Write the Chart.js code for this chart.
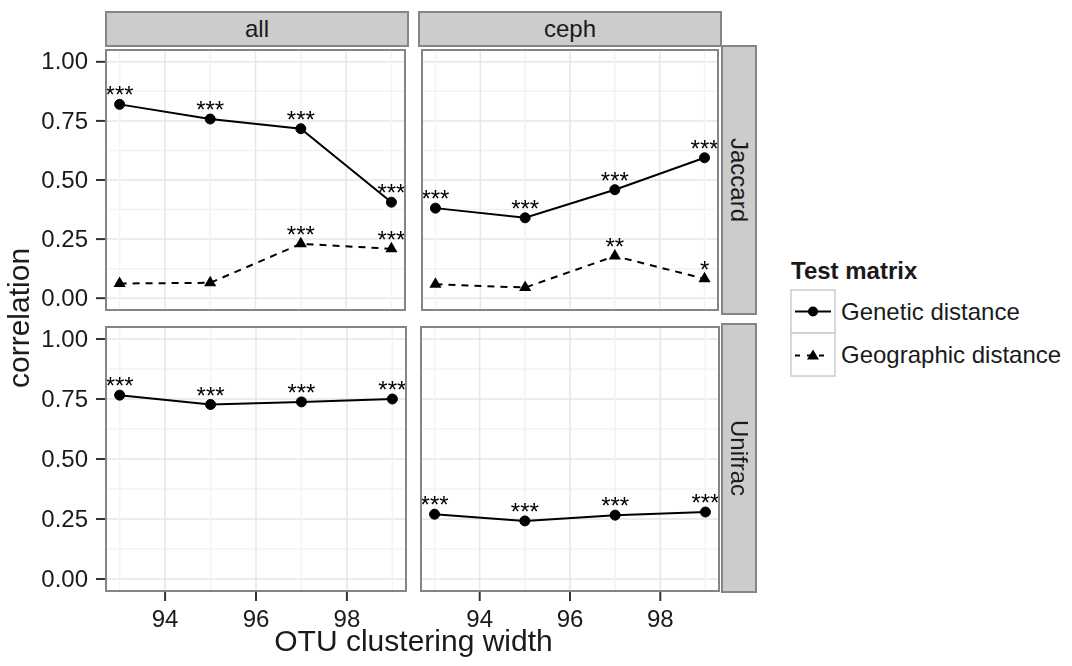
<!DOCTYPE html>
<html>
<head>
<meta charset="utf-8">
<script src="https://cdn.jsdelivr.net/npm/chart.js@4/dist/chart.umd.min.js"></script>
<style>
  body { margin: 0; background: #fff; font-family: "Liberation Sans", Arial, sans-serif; color: #1a1a1a; }
  #wrap { position: relative; width: 1072px; height: 666px; overflow: hidden; }
  canvas { position: absolute; }
  .strip { position: absolute; box-sizing: border-box; background: #cccccc; border: 2px solid #858585;
           font-size: 24px; display: flex; align-items: center; justify-content: center; }
  .vtext { transform: rotate(90deg); white-space: nowrap; }
  .lbl { position: absolute; white-space: nowrap; }
</style>
</head>
<body>
<div id="wrap">
  <canvas id="p1" width="412" height="274" style="left:0;top:43px"></canvas>
  <canvas id="p2" width="310" height="274" style="left:415px;top:43px"></canvas>
  <canvas id="p3" width="412" height="330" style="left:0;top:321px"></canvas>
  <canvas id="p4" width="310" height="330" style="left:415px;top:321px"></canvas>

  <div class="strip" style="left:105px;top:11px;width:304px;height:36px">all</div>
  <div class="strip" style="left:418px;top:11px;width:304px;height:36px">ceph</div>
  <div class="strip" style="left:721px;top:45px;width:36px;height:270px"><span class="vtext">Jaccard</span></div>
  <div class="strip" style="left:721px;top:323px;width:36px;height:270px"><span class="vtext">Unifrac</span></div>

  <div class="lbl" style="left:0;top:318px;width:36px;height:0;font-size:30px;">
    <div style="position:absolute;left:19px;top:0;transform:translate(-50%,-50%) rotate(-90deg);">correlation</div>
  </div>
  <div class="lbl" style="left:106px;width:615px;top:624px;text-align:center;font-size:30px;">OTU clustering width</div>

  <div class="lbl" style="left:791px;top:257px;font-size:24px;font-weight:bold;">Test matrix</div>
  <svg class="lbl" style="left:790px;top:289px" width="47" height="89">
    <rect x="1" y="1" width="44" height="43" fill="#fff" stroke="#cccccc" stroke-width="1.5"/>
    <rect x="1" y="44" width="44" height="43" fill="#fff" stroke="#cccccc" stroke-width="1.5"/>
    <line x1="5" y1="22.5" x2="41" y2="22.5" stroke="#000" stroke-width="2"/>
    <circle cx="23" cy="22.5" r="5" fill="#000"/>
    <line x1="5" y1="66.5" x2="41" y2="66.5" stroke="#000" stroke-width="2" stroke-dasharray="5,7"/>
    <polygon points="23,60.5 29,70.5 17,70.5" fill="#000"/>
  </svg>
  <div class="lbl" style="left:841px;top:298px;font-size:24px;">Genetic distance</div>
  <div class="lbl" style="left:841px;top:341px;font-size:24px;">Geographic distance</div>
</div>

<script>
// OTU clustering width (x) and correlation values
const widths = [93, 95, 97, 99];

const allJaccardGenetic = [0.82, 0.758, 0.717, 0.406];
const allJaccardGeographic = [0.062, 0.065, 0.23, 0.209];
const cephJaccardGenetic = [0.381, 0.34, 0.459, 0.594];
const cephJaccardGeographic = [0.059, 0.045, 0.178, 0.082];
const allUnifracGenetic = [0.766, 0.727, 0.738, 0.75];
const cephUnifracGenetic = [0.27, 0.242, 0.266, 0.279];

const allJaccardGeneticStars = ["***", "***", "***", "***"];
const allJaccardGeographicStars = ["", "", "***", "***"];
const cephJaccardGeneticStars = ["***", "***", "***", "***"];
const cephJaccardGeographicStars = ["", "", "**", "*"];
const allUnifracStars = ["***", "***", "***", "***"];
const cephUnifracStars = ["***", "***", "***", "***"];

const xTicks = [93, 94, 95, 96, 97, 98, 99];
const xLabels = [94, 96, 98];
const yTicks = [0, 0.125, 0.25, 0.375, 0.5, 0.625, 0.75, 0.875, 1];
const yLabels = [0, 0.25, 0.5, 0.75, 1];

const FONT = "'Liberation Sans', Arial, sans-serif";

function toPoints(vals) {
  return widths.map((w, i) => ({ x: w, y: vals[i] }));
}

function genetic(vals, stars) {
  return {
    data: toPoints(vals),
    stars: stars,
    borderColor: "#000",
    borderWidth: 2,
    pointStyle: "circle",
    pointRadius: 5,
    pointBackgroundColor: "#000",
    pointBorderColor: "#000",
    pointBorderWidth: 1,
    showLine: true,
  };
}

function geographic(vals, stars) {
  return {
    data: toPoints(vals),
    stars: stars,
    borderColor: "#000",
    borderWidth: 2,
    borderDash: [7, 6],
    pointStyle: "triangle",
    pointRadius: 7,
    pointBackgroundColor: "#000",
    pointBorderColor: "#000",
    pointBorderWidth: 0,
    showLine: true,
  };
}

// grid, ticks and tick labels from the chart's scales
const panelGrid = {
  id: "panelGrid",
  beforeDatasetsDraw(chart, args, opts) {
    const ctx = chart.ctx;
    const a = chart.chartArea;
    const xs = chart.scales.x;
    const ys = chart.scales.y;
    ctx.save();
    ctx.lineWidth = 1.5;
    yTicks.forEach((v) => {
      const y = ys.getPixelForValue(v);
      ctx.strokeStyle = yLabels.includes(v) ? "#e6e6e6" : "#f3f3f3";
      ctx.beginPath();
      ctx.moveTo(a.left, y);
      ctx.lineTo(a.right, y);
      ctx.stroke();
    });
    xTicks.forEach((v) => {
      const x = xs.getPixelForValue(v);
      ctx.strokeStyle = xLabels.includes(v) ? "#e6e6e6" : "#f3f3f3";
      ctx.beginPath();
      ctx.moveTo(x, a.top);
      ctx.lineTo(x, a.bottom);
      ctx.stroke();
    });

    ctx.fillStyle = "#1a1a1a";
    ctx.strokeStyle = "#333";
    ctx.lineWidth = 2;
    ctx.font = "24px " + FONT;
    if (opts.showY) {
      ctx.textAlign = "right";
      ctx.textBaseline = "middle";
      yLabels.forEach((v) => {
        const y = ys.getPixelForValue(v);
        ctx.beginPath();
        ctx.moveTo(a.left - 10, y);
        ctx.lineTo(a.left, y);
        ctx.stroke();
        ctx.fillText(v.toFixed(2), a.left - 18, y + 1);
      });
    }
    if (opts.showX) {
      ctx.textAlign = "center";
      ctx.textBaseline = "middle";
      xLabels.forEach((v) => {
        const x = xs.getPixelForValue(v);
        ctx.beginPath();
        ctx.moveTo(x, a.bottom);
        ctx.lineTo(x, a.bottom + 10);
        ctx.stroke();
        ctx.fillText(String(v), x, a.bottom + 29);
      });
    }
    ctx.restore();
  },
  afterDatasetsDraw(chart) {
    const ctx = chart.ctx;
    const a = chart.chartArea;
    ctx.save();
    ctx.beginPath();
    ctx.rect(a.left, a.top, a.right - a.left, a.bottom - a.top);
    ctx.clip();
    ctx.fillStyle = "#000";
    ctx.font = "24px " + FONT;
    ctx.textAlign = "center";
    ctx.textBaseline = "alphabetic";
    chart.data.datasets.forEach((ds, di) => {
      const meta = chart.getDatasetMeta(di);
      meta.data.forEach((pt, i) => {
        const s = ds.stars[i];
        if (s) ctx.fillText(s, pt.x, pt.y - 1);
      });
    });
    ctx.restore();
    ctx.save();
    ctx.strokeStyle = "#858585";
    ctx.lineWidth = 2;
    ctx.strokeRect(a.left, a.top, a.right - a.left, a.bottom - a.top);
    ctx.restore();
  },
};

function makePanel(id, datasets, showY, showX, padding) {
  new Chart(document.getElementById(id), {
    type: "scatter",
    data: { datasets: datasets },
    options: {
      responsive: false,
      animation: false,
      devicePixelRatio: 1,
      layout: { padding: padding },
      plugins: {
        legend: { display: false },
        tooltip: { enabled: false },
        panelGrid: { showY: showY, showX: showX },
      },
      scales: {
        x: { type: "linear", min: 92.7, max: 99.3, display: false },
        y: { type: "linear", min: -0.05, max: 1.05, display: false },
      },
    },
    plugins: [panelGrid],
  });
}

makePanel("p1",
  [genetic(allJaccardGenetic, allJaccardGeneticStars), geographic(allJaccardGeographic, allJaccardGeographicStars)],
  true, false, { left: 106, top: 3, right: 4, bottom: 4 });

makePanel("p2",
  [genetic(cephJaccardGenetic, cephJaccardGeneticStars), geographic(cephJaccardGeographic, cephJaccardGeographicStars)],
  false, false, { left: 4, top: 3, right: 4, bottom: 4 });

makePanel("p3",
  [genetic(allUnifracGenetic, allUnifracStars)],
  true, true, { left: 106, top: 3, right: 4, bottom: 60 });

makePanel("p4",
  [genetic(cephUnifracGenetic, cephUnifracStars)],
  false, true, { left: 4, top: 3, right: 4, bottom: 60 });
</script>
</body>
</html>
